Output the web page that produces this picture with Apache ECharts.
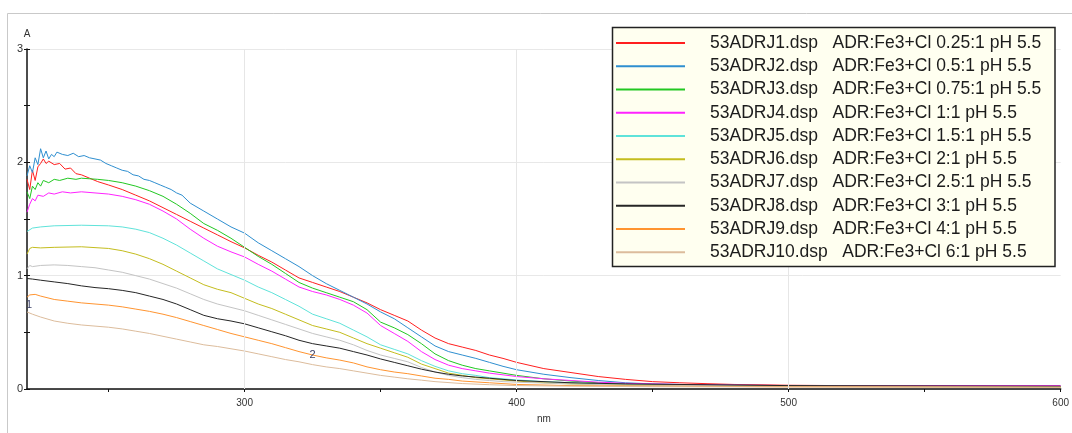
<!DOCTYPE html>
<html>
<head>
<meta charset="utf-8">
<style>
  html, body { margin: 0; padding: 0; background: #ffffff; }
  #chart { width: 1072px; height: 433px; }
</style>
<script src="https://cdn.jsdelivr.net/npm/echarts@6/dist/echarts.min.js"></script>
</head>
<body>
<div id="chart"></div>
<script>
// Absorbance spectra, [wavelength nm, absorbance A]
const j1 = [[220,1.85],[221,1.76],[222,1.93],[223,1.84],[224,1.96],[225,1.99],[226,2.03],[227,1.99],[228,2.01],[230,1.98],[232,1.99],[234,1.94],[236,1.95],[238,1.90],[240,1.89],[243,1.86],[246,1.83],[250,1.80],[255,1.76],[260,1.71],[265,1.66],[270,1.60],[275,1.54],[280,1.48],[285,1.42],[290,1.36],[295,1.30],[300,1.245],[305,1.18],[310,1.12],[315,1.05],[320,0.98],[325,0.94],[330,0.90],[335,0.86],[340,0.81],[345,0.76],[350,0.70],[355,0.65],[360,0.60],[365,0.52],[370,0.45],[375,0.40],[380,0.37],[385,0.34],[390,0.30],[395,0.27],[400,0.235],[410,0.18],[420,0.145],[430,0.11],[440,0.085],[450,0.065],[460,0.055],[470,0.047],[480,0.04],[500,0.033],[550,0.025],[600,0.02]];
const j2 = [[220,1.88],[221,1.97],[222,1.91],[223,2.04],[224,1.98],[225,2.12],[226,2.04],[227,2.10],[228,2.03],[229,2.07],[230,2.05],[231,2.09],[233,2.07],[235,2.06],[237,2.08],[239,2.05],[241,2.06],[243,2.04],[245,2.03],[247,2.02],[249,1.99],[251,1.97],[253,1.95],[255,1.93],[257,1.92],[259,1.89],[261,1.88],[263,1.85],[265,1.84],[267,1.82],[269,1.80],[271,1.78],[273,1.76],[275,1.73],[277,1.71],[280,1.64],[285,1.57],[290,1.50],[295,1.43],[300,1.375],[305,1.29],[310,1.22],[315,1.15],[320,1.08],[325,1.00],[330,0.93],[335,0.87],[340,0.81],[345,0.75],[350,0.68],[355,0.62],[360,0.54],[365,0.46],[370,0.38],[375,0.33],[380,0.30],[385,0.27],[390,0.235],[395,0.20],[400,0.17],[410,0.13],[420,0.10],[430,0.075],[440,0.055],[450,0.045],[460,0.04],[480,0.033],[500,0.028],[550,0.022],[600,0.02]];
const j3 = [[220,1.74],[221,1.68],[222,1.79],[223,1.76],[224,1.82],[225,1.79],[226,1.84],[228,1.82],[230,1.85],[232,1.84],[235,1.86],[238,1.85],[240,1.86],[243,1.855],[246,1.85],[250,1.84],[255,1.82],[260,1.79],[265,1.75],[270,1.70],[275,1.63],[280,1.55],[285,1.46],[290,1.40],[295,1.33],[300,1.25],[305,1.17],[310,1.10],[315,1.02],[320,0.94],[325,0.89],[330,0.85],[335,0.81],[340,0.77],[345,0.70],[350,0.59],[355,0.54],[360,0.48],[365,0.40],[370,0.31],[375,0.25],[380,0.21],[385,0.18],[390,0.16],[395,0.14],[400,0.12],[410,0.09],[420,0.07],[430,0.055],[440,0.045],[460,0.035],[500,0.03],[550,0.025],[600,0.02]];
const j4 = [[220,1.56],[221,1.63],[222,1.68],[223,1.66],[224,1.71],[226,1.70],[228,1.73],[230,1.72],[233,1.74],[236,1.73],[240,1.74],[245,1.73],[250,1.72],[255,1.70],[260,1.67],[265,1.63],[270,1.57],[275,1.50],[280,1.41],[285,1.33],[290,1.26],[295,1.21],[300,1.165],[305,1.10],[310,1.04],[315,0.97],[320,0.90],[325,0.86],[330,0.83],[335,0.79],[340,0.74],[345,0.67],[350,0.56],[355,0.49],[360,0.42],[365,0.33],[370,0.26],[375,0.21],[380,0.18],[385,0.16],[390,0.14],[395,0.125],[400,0.11],[410,0.09],[420,0.075],[430,0.06],[440,0.05],[460,0.04],[480,0.035],[500,0.03],[550,0.03],[600,0.03]];
const j5 = [[220,1.39],[222,1.42],[225,1.43],[230,1.44],[240,1.445],[250,1.44],[255,1.43],[260,1.41],[265,1.38],[270,1.33],[275,1.27],[280,1.20],[285,1.13],[290,1.06],[295,1.01],[300,0.96],[305,0.90],[310,0.85],[315,0.79],[320,0.73],[325,0.66],[330,0.62],[335,0.58],[340,0.52],[345,0.46],[350,0.39],[355,0.35],[360,0.31],[365,0.25],[370,0.20],[375,0.16],[380,0.135],[385,0.12],[390,0.10],[395,0.09],[400,0.08],[410,0.065],[420,0.055],[430,0.045],[450,0.035],[500,0.025],[550,0.02],[600,0.02]];
const j6 = [[220,1.19],[221,1.24],[222,1.25],[225,1.245],[230,1.25],[240,1.255],[250,1.24],[255,1.22],[260,1.19],[265,1.15],[270,1.10],[275,1.04],[280,0.98],[285,0.92],[290,0.88],[295,0.85],[300,0.80],[305,0.75],[310,0.71],[315,0.66],[320,0.61],[325,0.56],[330,0.53],[335,0.50],[340,0.45],[345,0.40],[350,0.36],[355,0.32],[360,0.28],[365,0.22],[370,0.18],[375,0.14],[380,0.12],[385,0.10],[390,0.09],[395,0.08],[400,0.07],[410,0.055],[420,0.045],[440,0.035],[500,0.025],[600,0.02]];
const j7 = [[220,1.06],[221,1.09],[222,1.08],[225,1.09],[230,1.095],[235,1.09],[240,1.08],[245,1.07],[250,1.05],[255,1.03],[260,1.00],[265,0.97],[270,0.93],[275,0.89],[280,0.84],[285,0.79],[290,0.75],[295,0.72],[300,0.69],[305,0.65],[310,0.61],[315,0.57],[320,0.53],[325,0.49],[330,0.46],[335,0.43],[340,0.39],[345,0.34],[350,0.30],[355,0.27],[360,0.24],[365,0.19],[370,0.15],[375,0.12],[380,0.10],[385,0.085],[390,0.075],[395,0.065],[400,0.06],[420,0.045],[440,0.035],[500,0.025],[600,0.02]];
const j8 = [[220,0.975],[222,0.97],[225,0.96],[230,0.945],[235,0.93],[240,0.91],[245,0.895],[250,0.885],[255,0.87],[260,0.85],[265,0.82],[270,0.79],[275,0.75],[280,0.70],[285,0.65],[290,0.62],[295,0.60],[300,0.575],[305,0.54],[310,0.505],[315,0.47],[320,0.43],[325,0.40],[330,0.38],[335,0.36],[340,0.33],[345,0.30],[350,0.265],[355,0.235],[360,0.205],[365,0.175],[370,0.15],[375,0.13],[380,0.115],[385,0.105],[390,0.095],[395,0.085],[400,0.075],[420,0.055],[440,0.045],[500,0.03],[600,0.025]];
const j9 = [[220,0.81],[221,0.83],[223,0.835],[225,0.82],[230,0.79],[235,0.775],[240,0.76],[245,0.75],[250,0.74],[255,0.725],[260,0.705],[265,0.685],[270,0.66],[275,0.63],[280,0.595],[285,0.56],[290,0.525],[295,0.49],[300,0.46],[305,0.43],[310,0.40],[315,0.365],[320,0.33],[325,0.30],[330,0.275],[335,0.255],[340,0.23],[345,0.195],[350,0.17],[355,0.15],[360,0.135],[365,0.115],[370,0.095],[375,0.085],[380,0.07],[390,0.055],[400,0.04],[420,0.03],[450,0.025],[500,0.02],[600,0.015]];
const j10 = [[220,0.68],[222,0.66],[225,0.635],[230,0.60],[235,0.58],[240,0.565],[245,0.555],[250,0.545],[255,0.53],[260,0.51],[265,0.49],[270,0.465],[275,0.44],[280,0.415],[285,0.39],[290,0.375],[295,0.355],[300,0.335],[305,0.31],[310,0.285],[315,0.26],[320,0.24],[325,0.215],[330,0.195],[335,0.18],[340,0.16],[345,0.14],[350,0.12],[355,0.105],[360,0.09],[365,0.078],[370,0.065],[380,0.048],[390,0.038],[400,0.03],[420,0.025],[450,0.02],[500,0.018],[600,0.015]];

const seriesNames = [
  '53ADRJ1.dsp   ADR:Fe3+Cl 0.25:1 pH 5.5',
  '53ADRJ2.dsp   ADR:Fe3+Cl 0.5:1 pH 5.5',
  '53ADRJ3.dsp   ADR:Fe3+Cl 0.75:1 pH 5.5',
  '53ADRJ4.dsp   ADR:Fe3+Cl 1:1 pH 5.5',
  '53ADRJ5.dsp   ADR:Fe3+Cl 1.5:1 pH 5.5',
  '53ADRJ6.dsp   ADR:Fe3+Cl 2:1 pH 5.5',
  '53ADRJ7.dsp   ADR:Fe3+Cl 2.5:1 pH 5.5',
  '53ADRJ8.dsp   ADR:Fe3+Cl 3:1 pH 5.5',
  '53ADRJ9.dsp   ADR:Fe3+Cl 4:1 pH 5.5',
  '53ADRJ10.dsp   ADR:Fe3+Cl 6:1 pH 5.5'
];
const seriesData = [j1, j2, j3, j4, j5, j6, j7, j8, j9, j10];
const seriesColors = ['#ff1f1f', '#2f8fd0', '#22c822', '#ff22ff', '#5fe3da',
                      '#c4bd1e', '#c4c4c4', '#262626', '#ff9430', '#dcbc9c'];

// Axis ticks and labels
const xMin = 220, xMax = 600;
const xTickValues = [250, 300, 350, 400, 450, 500, 550, 600];
const xLabelValues = [300, 400, 500, 600];
const xGridValues = [300, 400, 500];
const yMin = 0, yMax = 3, yStep = 1;

// Cursor markers placed on the spectra: [label, nm, A]
const cursorMarks = [['1', 220.8, 0.745], ['2', 325, 0.30]];

const chart = echarts.init(document.getElementById('chart'), null, { renderer: 'canvas' });

const font = '"Liberation Sans", Arial, sans-serif';

const lineSeries = seriesNames.map((name, i) => ({
  name: name,
  type: 'line',
  data: seriesData[i],
  symbol: 'none',
  showSymbol: false,
  smooth: false,
  z: 3,
  color: seriesColors[i],
  lineStyle: { width: 1, color: seriesColors[i] }
}));

// Vertical grid lines at round wavelengths plus cursor labels
const helperSeries = {
  type: 'line',
  data: [],
  z: 1,
  silent: true,
  markLine: {
    silent: true,
    symbol: ['none', 'none'],
    label: { show: false },
    lineStyle: { color: '#e6e6e6', width: 1, type: 'solid' },
    data: xGridValues.map(v => ({ xAxis: v }))
  },
  markPoint: {
    silent: true,
    symbol: 'circle',
    symbolSize: 0,
    label: {
      show: true,
      position: 'inside',
      fontFamily: font,
      fontSize: 11,
      color: '#3a3f66',
      formatter: p => p.name
    },
    data: cursorMarks.map(m => ({ name: m[0], coord: [m[1], m[2]] }))
  }
};

chart.setOption({
  animation: false,
  backgroundColor: '#ffffff',
  textStyle: { fontFamily: font },
  grid: { left: 27, top: 49, width: 1037, height: 340, containLabel: false },
  xAxis: {
    type: 'value',
    min: xMin,
    max: xMax,
    name: 'nm',
    nameLocation: 'middle',
    nameGap: 25,
    nameTextStyle: { fontSize: 10, color: '#333', fontFamily: font },
    axisLine: { show: true, onZero: false, lineStyle: { color: '#111', width: 1.5 } },
    axisTick: { show: true, customValues: xTickValues, length: 3, inside: false, lineStyle: { color: '#111' } },
    axisLabel: { show: true, customValues: xLabelValues, fontSize: 10, color: '#333', margin: 9, fontFamily: font },
    splitLine: { show: false }
  },
  yAxis: [{
    type: 'value',
    min: yMin,
    max: yMax,
    interval: yStep,
    name: 'A',
    nameLocation: 'end',
    nameGap: 10,
    nameTextStyle: { fontSize: 10, color: '#333', fontFamily: font, align: 'center' },
    axisLine: { show: true, lineStyle: { color: '#111', width: 1.5 } },
    axisTick: { show: true, length: 3, inside: false, lineStyle: { color: '#111' } },
    minorTick: { show: true, splitNumber: 2, length: 3, lineStyle: { color: '#111' } },
    axisLabel: { fontSize: 11, color: '#333', margin: 4, fontFamily: font },
    splitLine: { show: true, lineStyle: { color: '#e8e8e8', width: 1 } }
  }, {
    type: 'value',
    min: yMin,
    max: yMax,
    interval: yStep,
    position: 'left',
    offset: 0,
    axisLine: { show: false },
    axisTick: { show: true, length: 3, inside: true, lineStyle: { color: '#111' } },
    minorTick: { show: true, splitNumber: 2, length: 3, lineStyle: { color: '#111' } },
    axisLabel: { show: false },
    splitLine: { show: false }
  }],
  legend: {
    data: seriesNames,
    orient: 'vertical',
    left: 616,
    top: 34,
    padding: 0,
    itemGap: 5.25,
    itemWidth: 69,
    itemHeight: 2,
    icon: 'rect',
    selectedMode: false,
    z: 12,
    formatter: name => '{t|' + name + '}',
    textStyle: {
      rich: {
        t: {
          fontFamily: font,
          fontSize: 17.5,
          color: '#1c1c1c',
          padding: [0, 0, 0, 20]
        }
      }
    }
  },
  graphic: [
    {
      type: 'rect',
      z: -10,
      silent: true,
      shape: { x: 7.5, y: 13.5, width: 1080, height: 440 },
      style: { fill: 'none', stroke: '#c9c9c9', lineWidth: 1 }
    },
    {
      type: 'rect',
      z: 10,
      silent: true,
      shape: { x: 612.5, y: 27.5, width: 442.5, height: 239 },
      style: { fill: '#fffff0', stroke: '#222', lineWidth: 1.5 }
    }
  ],
  series: [helperSeries].concat(lineSeries)
});
</script>
</body>
</html>
